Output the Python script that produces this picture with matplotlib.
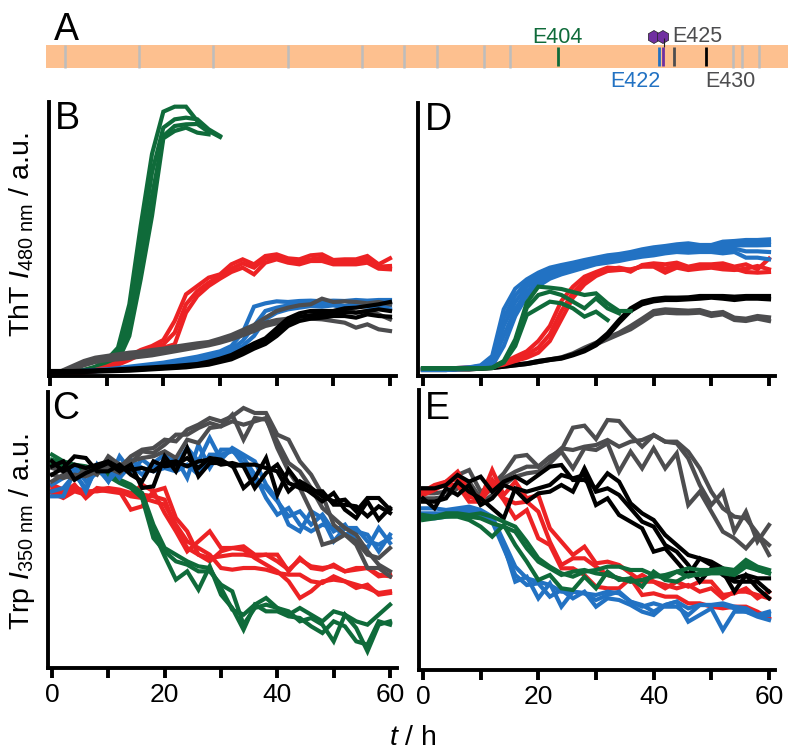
import numpy as np
import matplotlib
matplotlib.use('Agg')
import matplotlib.pyplot as plt
from matplotlib.patches import RegularPolygon

plt.rcParams['font.family'] = ['Liberation Sans', 'DejaVu Sans']
plt.rcParams['mathtext.fontset'] = 'custom'
plt.rcParams['mathtext.rm'] = 'Liberation Sans'
plt.rcParams['mathtext.it'] = 'Liberation Sans:italic'

GREEN = '#0f6b3a'
RED = '#ed2224'
BLUE = '#2272c3'
GREY = '#4d4d4f'
BLACK = '#000000'
ORANGE = '#fdc08f'

W, H = 800, 756
font_letter = 27
font_label = 20.5
font_tick = 19
line_w = 3.0

time_h = np.arange(0, 62, 2)

# panel A, sequence bar
bar_range = [46, 788]
domain_edges = [65, 139, 213, 288, 362, 404, 437, 484, 510, 733, 742, 759]
site_names = ['E404', 'E422', 'E425', 'E430']
site_pos = [558, 659, 674, 706]
site_colors = [GREEN, BLUE, GREY, BLACK]

# panel B, ThT
b_green_1 = [6,8,12,18,28,48,85,215,450,666,793,808,808,765,735,717]
b_green_2 = [6,8,12,18,26,42,70,180,390,610,745,770,775,770,740,720]
b_green_3 = [6,8,12,16,24,38,55,150,330,540,720,750,755,756,732]
b_green_4 = [6,8,10,16,24,36,45,120,290,480,713,735,745,730,725]
b_red_1 = [6,6,8,12,18,28,42,60,78,90,108,165,245,270,295,305,335,350,335,360,365,353,350,362,365,348,350,350,360,335,353]
b_red_2 = [6,6,8,12,16,24,38,55,72,85,95,130,215,255,280,300,322,338,325,352,358,345,342,350,355,342,343,342,350,328,330]
b_red_3 = [6,6,8,10,14,22,34,48,65,78,85,95,190,240,270,292,312,325,305,340,350,340,335,345,345,335,335,335,340,322,320]
b_blue_1 = [12,12,14,16,18,20,24,28,32,36,40,46,52,58,66,74,90,130,208,218,224,222,225,226,224,226,225,228,226,228,228]
b_blue_2 = [12,12,14,14,16,18,20,24,28,32,36,42,46,50,58,66,80,105,150,195,205,212,216,218,215,218,210,218,216,215,212]
b_blue_3 = [12,12,12,14,14,16,18,22,26,30,34,38,42,46,52,60,72,90,120,170,190,200,205,210,208,212,205,210,208,205,200]
b_grey_1 = [13,15,30,45,55,60,65,70,73,78,82,88,93,98,102,112,123,138,153,175,195,205,212,215,232,222,224,222,218,222,215]
b_grey_2 = [13,14,24,38,48,54,58,62,66,70,74,80,86,90,96,104,115,128,145,160,168,172,175,182,190,195,200,190,195,185,170]
b_grey_3 = [13,14,20,32,42,48,50,54,58,62,68,74,80,86,92,100,110,122,135,150,158,165,170,172,170,165,160,145,155,140,135]
b_black_1 = [15,15,15,16,17,18,20,22,24,26,28,30,33,36,43,52,63,80,98,113,143,173,188,195,195,195,203,205,210,215,222]
b_black_2 = [12,12,13,14,15,16,18,19,20,22,24,26,28,32,38,46,56,72,90,105,132,160,178,182,185,190,192,190,195,200,195]
b_black_3 = [10,10,11,12,13,14,15,16,18,20,22,24,26,30,34,42,50,65,82,96,120,150,165,172,175,180,180,175,185,180,178]

# panel D, ThT
d_blue_1 = [22,22,22,24,26,32,60,200,262,290,310,325,333,340,348,355,362,366,372,380,386,390,395,398,393,393,403,405,408,408,410]
d_blue_2 = [20,20,20,22,24,28,48,150,222,268,290,310,320,330,338,345,353,358,363,372,378,382,386,384,384,384,388,392,392,392,393]
d_blue_3 = [18,18,18,20,22,24,30,90,180,240,270,292,305,315,325,335,340,345,352,358,362,368,372,370,372,372,368,372,355,355,350]
d_blue_4 = [21,21,21,23,25,30,54,175,242,280,300,318,327,335,343,350,358,362,368,376,382,386,390,391,388,388,396,398,400,400,402]
d_blue_5 = [19,19,19,21,23,26,38,120,200,254,280,301,313,322,331,340,346,352,358,365,370,375,379,377,378,378,378,382,374,374,372]
d_red_1 = [22,22,22,24,26,28,32,40,58,74,105,150,225,268,298,312,325,323,313,333,338,335,340,328,335,335,338,328,335,320,352]
d_red_2 = [20,20,20,22,22,24,28,34,45,55,70,105,170,235,275,300,315,318,320,328,328,310,325,318,322,325,320,318,322,330,320]
d_red_3 = [21,21,21,23,24,26,30,36,50,64,85,125,195,250,285,305,320,325,318,330,333,322,332,325,328,330,328,322,312,310,312]
d_green_1 = [23,23,23,23,23,23,25,45,110,220,268,265,261,252,243,248,218,195,195]
d_green_2 = [23,23,23,23,23,23,24,42,100,205,243,253,243,223,203,233,203,188]
d_green_3 = [23,23,23,23,23,23,24,40,90,183,203,223,218,203,178,193,168]
d_black_1 = [20,20,20,22,22,24,26,30,34,38,45,50,55,65,78,98,128,168,203,223,231,235,235,236,240,240,240,238,240,240,240]
d_black_2 = [18,18,18,20,20,22,24,28,32,36,42,48,52,62,74,92,120,160,195,215,224,228,228,230,232,235,232,228,232,232,230]
d_grey_1 = [20,20,20,22,22,24,26,30,34,38,45,50,56,68,85,100,115,130,150,172,195,200,198,196,198,188,192,175,172,180,176]
d_grey_2 = [18,18,18,20,20,22,24,28,32,36,42,48,54,64,80,95,110,125,140,162,185,190,188,188,190,180,185,168,165,172,165]

# panel C, Trp
c_green_1 = [640,620,610,605,595,580,565,550,525,430,360,340,320,305,300,240,175,160,190,210,180,160,180,160,140,170,160,140,130,160,190]
c_green_2 = [625,615,605,600,595,580,560,545,520,410,335,265,290,235,305,220,180,115,190,170,170,155,150,125,105,140,125,80,70,140,130]
c_green_3 = [610,605,600,595,590,575,555,540,510,390,350,320,310,290,290,250,230,130,180,190,180,170,140,150,130,80,160,120,50,130,140]
c_red_1 = [545,525,550,510,540,535,530,475,485,530,465,410,350,380,410,360,360,365,340,340,340,290,330,300,295,310,290,300,300,275,280]
c_red_2 = [525,510,530,520,535,530,525,520,550,530,540,450,410,340,320,350,360,355,330,310,290,260,210,230,260,265,260,240,250,220,225]
c_red_3 = [535,520,540,530,530,535,530,515,510,500,490,430,380,360,340,300,295,300,300,295,285,280,280,260,255,275,260,250,240,225,230]
c_red_4 = [550,535,545,525,535,540,535,525,520,515,505,420,360,340,330,335,340,340,335,340,320,295,325,305,300,305,290,295,300,280,275]
c_blue_1 = [515,515,590,530,610,560,635,590,625,600,620,630,570,670,600,655,655,610,560,540,500,455,470,430,460,410,430,380,360,420,375]
c_blue_2 = [550,570,605,560,585,610,570,610,580,615,640,610,660,620,690,625,660,640,620,550,505,430,410,470,450,380,420,420,380,370,390]
c_blue_3 = [530,540,580,540,600,560,600,625,600,590,600,590,610,580,640,640,650,630,580,510,460,480,430,410,430,420,400,410,400,350,400]
c_grey_1 = [580,570,580,575,590,610,600,635,655,660,685,680,715,730,750,740,755,780,765,765,700,685,620,580,520,430,400,370,300,300,275]
c_grey_2 = [560,580,565,600,580,635,610,615,650,645,670,700,700,720,735,725,740,730,740,750,660,590,540,470,370,380,400,380,340,330,360]
c_grey_3 = [600,590,570,585,595,600,585,620,630,635,650,630,685,675,720,725,760,685,750,745,680,615,590,540,480,450,420,400,350,310,290]
c_black_1 = [605,620,565,585,600,615,590,610,540,545,635,590,660,575,615,615,610,540,570,630,520,595,550,525,500,525,475,450,500,445,480]
c_black_2 = [580,600,635,630,590,590,610,580,560,620,605,610,630,600,630,625,605,610,610,600,590,530,560,540,515,500,505,470,510,510,475]
c_black_3 = [620,590,610,600,610,620,600,595,600,590,615,620,605,620,625,610,615,605,540,585,610,555,540,530,530,490,490,485,455,485,465]

# panel E, Trp
e_grey_1 = [545,545,565,585,600,535,555,590,640,645,610,640,660,727,733,693,750,747,705,670,705,685,685,655,605,535,485,460,455,410,345]
e_grey_2 = [530,530,535,555,565,515,545,575,595,610,610,635,665,660,670,675,690,670,685,690,705,685,680,635,555,495,535,415,475,385,435]
e_grey_3 = [515,515,520,545,555,500,525,555,580,590,595,620,655,605,665,660,680,595,655,605,665,605,650,495,535,475,415,395,365,405,375]
e_black_1 = [545,545,555,585,565,580,535,565,580,560,585,610,615,570,570,545,590,565,500,470,450,405,375,345,335,325,305,275,285,275,275]
e_black_2 = [515,485,545,525,555,495,515,555,540,505,530,535,555,535,605,535,545,525,485,445,430,375,355,315,265,305,295,235,285,245,215]
e_black_3 = [505,505,515,565,535,515,485,455,545,535,545,555,585,575,585,495,515,465,445,425,355,365,325,285,335,315,285,265,265,265,235]
e_red_1 = [535,555,565,595,535,515,600,525,565,515,525,425,385,345,370,320,325,315,290,265,265,245,265,250,265,265,225,230,245,215,235]
e_red_2 = [535,545,555,555,505,505,555,510,455,480,395,375,305,305,285,250,245,245,275,225,230,220,220,200,200,190,185,190,190,175,155]
e_red_3 = [525,540,560,575,520,510,570,515,500,505,475,385,315,335,335,310,285,275,265,285,265,255,245,255,235,245,215,235,235,225,215]
e_blue_1 = [485,485,480,485,490,480,460,385,310,275,265,255,235,235,230,225,235,230,205,195,175,195,205,185,195,195,200,190,185,165,165]
e_blue_2 = [455,455,460,465,470,460,445,365,285,255,260,220,240,215,235,190,215,210,195,175,165,195,205,145,165,185,120,175,175,160,150]
e_blue_3 = [470,470,470,475,480,470,450,375,265,280,215,260,190,235,230,210,225,235,205,190,200,190,190,165,195,195,195,185,175,165,175]
e_green_1 = [465,460,470,470,465,470,460,445,430,385,335,310,290,280,295,300,310,310,300,300,285,275,295,305,300,300,305,300,330,310,300]
e_green_2 = [455,460,465,465,460,455,440,430,415,365,325,305,285,295,300,290,285,275,265,270,280,285,295,280,290,295,300,295,320,300,290]
e_green_3 = [450,455,460,460,450,430,400,435,375,325,270,285,245,240,280,245,295,270,275,250,295,270,265,285,285,290,290,285,310,300,290]


def make_axes(fig, left, right, bottom, top, x0, x60):
    # pixel box from the reference, x limits so 0 and 60 land on the ticks
    ax = fig.add_axes([left/W, 1-bottom/H, (right-left)/W, (bottom-top)/H])
    scale = (x60-x0)/60
    ax.set_xlim((left-x0)/scale, 60+(right-x60)/scale)
    ax.set_ylim(0, (bottom-top)*3)
    ax.spines['top'].set_visible(False)
    ax.spines['right'].set_visible(False)
    ax.spines['left'].set_linewidth(2.8)
    ax.spines['bottom'].set_linewidth(2.8)
    ax.set_yticks([])
    ax.set_xticks(np.arange(0, 70, 10))
    ax.tick_params(axis='x', width=2.8, length=7.5, pad=3.5, labelsize=font_tick)
    return ax


def draw(ax, groups):
    for color, reps in groups:
        for y in reps:
            ax.plot(time_h[:len(y)], y, color=color, lw=line_w, solid_joinstyle='miter', clip_on=False)


fig = plt.figure(figsize=(W/100, H/100), dpi=100)

ax_b = make_axes(fig, 49, 396, 376, 102, 50, 390)
ax_d = make_axes(fig, 418, 775, 376, 103, 423, 769)
ax_c = make_axes(fig, 48, 397, 668, 392, 52, 390)
ax_e = make_axes(fig, 419, 775, 670, 390, 423, 769)

draw(ax_b, [(GREEN, [b_green_1, b_green_2, b_green_3, b_green_4]),
            (RED, [b_red_1, b_red_2, b_red_3]),
            (BLUE, [b_blue_1, b_blue_2, b_blue_3]),
            (GREY, [b_grey_1, b_grey_2, b_grey_3]),
            (BLACK, [b_black_1, b_black_2, b_black_3])])
draw(ax_d, [(GREY, [d_grey_1, d_grey_2]),
            (BLACK, [d_black_1, d_black_2]),
            (RED, [d_red_1, d_red_2, d_red_3]),
            (BLUE, [d_blue_1, d_blue_2, d_blue_3, d_blue_4, d_blue_5]),
            (GREEN, [d_green_1, d_green_2, d_green_3])])
draw(ax_c, [(RED, [c_red_1, c_red_2, c_red_3, c_red_4]),
            (GREEN, [c_green_1, c_green_2, c_green_3]),
            (BLUE, [c_blue_1, c_blue_2, c_blue_3]),
            (GREY, [c_grey_1, c_grey_2, c_grey_3]),
            (BLACK, [c_black_1, c_black_2, c_black_3])])
draw(ax_e, [(GREY, [e_grey_1, e_grey_2, e_grey_3]),
            (RED, [e_red_1, e_red_2, e_red_3]),
            (BLUE, [e_blue_1, e_blue_2, e_blue_3]),
            (BLACK, [e_black_1, e_black_2, e_black_3]),
            (GREEN, [e_green_1, e_green_2, e_green_3])])

for ax in (ax_b, ax_d):
    ax.set_xticklabels([])
for ax in (ax_c, ax_e):
    ax.set_xticklabels(['0', '', '20', '', '40', '', '60'])

# sequence bar on a full figure axes in pixels
ax_a = fig.add_axes([0, 0, 1, 1], zorder=-1)
ax_a.set_xlim(0, W)
ax_a.set_ylim(H, 0)
ax_a.axis('off')
ax_a.fill_between(bar_range, 45, 68, color=ORANGE, lw=0)
ax_a.vlines(domain_edges, 45, 68, color='#bdbdbd', lw=1.8)
ax_a.vlines(site_pos, 47, 66, color=site_colors, lw=2)
ax_a.vlines([663], 47, 66, color='#7030a0', lw=2)
ax_a.vlines([664], 38, 47, color='#222222', lw=0.8)
ax_a.add_patch(RegularPolygon((654, 37), 6, radius=6.5, orientation=0, fc='#7030a0', ec='#222222', lw=0.5))
ax_a.add_patch(RegularPolygon((663, 37), 6, radius=6.5, orientation=0, fc='#7030a0', ec='#222222', lw=0.5))
ax_a.text(557, 43, site_names[0], color=GREEN, fontsize=15.5, ha='center', va='baseline')
ax_a.text(672, 42, site_names[2], color=GREY, fontsize=15.5, ha='left', va='baseline')
ax_a.text(660, 87, site_names[1], color=BLUE, fontsize=15.5, ha='right', va='baseline')
ax_a.text(705, 87, site_names[3], color=GREY, fontsize=15.5, ha='left', va='baseline')

for letter, x, y in [('A', 54, 40), ('B', 55, 129), ('D', 425, 130), ('C', 52, 419), ('E', 425, 419)]:
    fig.text(x/W, 1-y/H, letter, fontsize=font_letter, ha='left', va='baseline')

fig.text(22/W, 1-235/H, r'ThT $I_{\mathrm{480\ nm}}$ / a.u.', fontsize=font_label, rotation=90, ha='center', va='center')
fig.text(22/W, 1-532/H, r'Trp $I_{\mathrm{350\ nm}}$ / a.u.', fontsize=font_label, rotation=90, ha='center', va='center')
fig.text(413/W, 1-745/H, r'$t$ / h', fontsize=font_label, ha='center', va='baseline')

plt.savefig('out.png', dpi=100)
